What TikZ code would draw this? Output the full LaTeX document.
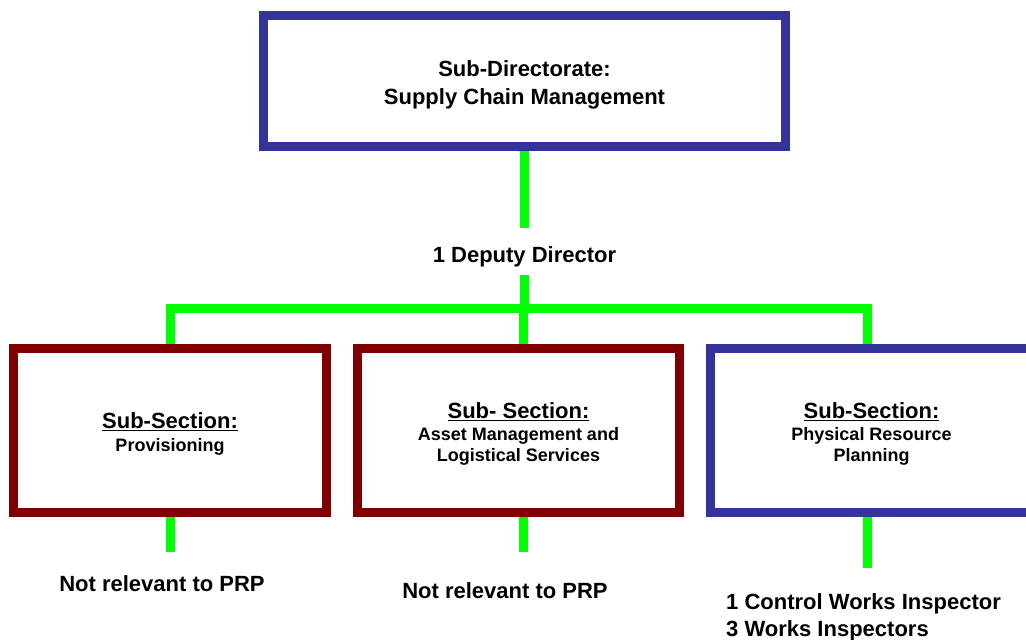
\documentclass[tikz,border=0pt]{standalone}
\usepackage{fontspec}
\setmainfont{Liberation Sans}
\definecolor{sbblue}{RGB}{51,51,153}
\definecolor{sbred}{RGB}{128,0,0}
\definecolor{sbgreen}{RGB}{0,255,0}
\begin{document}
\begin{tikzpicture}[x=1pt,y=-1pt,
  box/.style={draw, line width=9pt, fill=white, align=center, inner sep=0pt},
  topbox/.style={box, draw=sbblue, minimum width=522pt, minimum height=131pt,
    font=\bfseries\fontsize{22}{28}\selectfont},
  subbox/.style={box, minimum width=313pt, minimum height=164pt,
    font=\bfseries\fontsize{18}{21}\selectfont},
  redbox/.style={subbox, draw=sbred},
  bluebox/.style={subbox, draw=sbblue},
  conn/.style={draw=sbgreen, line width=9pt, line join=miter},
  lbl/.style={inner sep=0pt, font=\bfseries\fontsize{22}{27}\selectfont}]
\useasboundingbox (0,0) rectangle (1026,640);
\clip (0,0) rectangle (1026,640);
\fill[white] (0,0) rectangle (1026,640);

% head office
\node[topbox] (sd) at (524.5,81) {\rule{0pt}{24pt}Sub-Directorate:\\ Supply Chain Management};
\node[lbl, minimum height=47pt, text height=22pt, text depth=0pt] (dd) at (524.5,251.5) {1 Deputy Director};

% sub-sections
\node[redbox] (pv) at (170,430.5)
  {{\fontsize{22}{26}\selectfont\rule{0pt}{22pt}\underline{Sub-Section:}}\\[2pt] Provisioning};
\node[redbox, minimum width=322pt] (am) at (518.5,430.5)
  {{\fontsize{22}{26}\selectfont\rule{0pt}{22pt}\underline{Sub- Section:}}\\[1pt] Asset Management and\\ Logistical Services};
\node[bluebox, minimum width=322pt] (pr) at (871.5,430.5)
  {{\fontsize{22}{26}\selectfont\rule{0pt}{22pt}\underline{Sub-Section:}}\\[1pt] Physical Resource\\ Planning};

% staffing notes
\node[lbl] (n1) at (162,584) {Not relevant to PRP};
\node[lbl] (n2) at (505,591) {Not relevant to PRP};
\node[lbl, align=left, anchor=west] (n3) at (726,617) {1 Control Works Inspector\\ 3 Works Inspectors};

\coordinate (bus) at (0,308);
\coordinate (e1) at (170,552);
\coordinate (e2) at (523,552);
\coordinate (e3) at (867,568);

% connectors
\draw[conn] (sd.south) -- (dd.north);
\draw[conn] (dd.south) -- (dd.south |- bus);
\draw[conn] (pv.north) -- (pv.north |- bus) -- ([xshift=-4.5pt]pr.north |- bus) -- ([xshift=-4.5pt]pr.north);
\draw[conn] ([xshift=4.5pt]am.north |- bus) -- ([xshift=4.5pt]am.north);
\draw[conn] (pv.south) -- (e1);
\draw[conn] ([xshift=4.5pt]am.south) -- (e2);
\draw[conn] ([xshift=-4.5pt]pr.south) -- (e3);
\end{tikzpicture}
\end{document}
